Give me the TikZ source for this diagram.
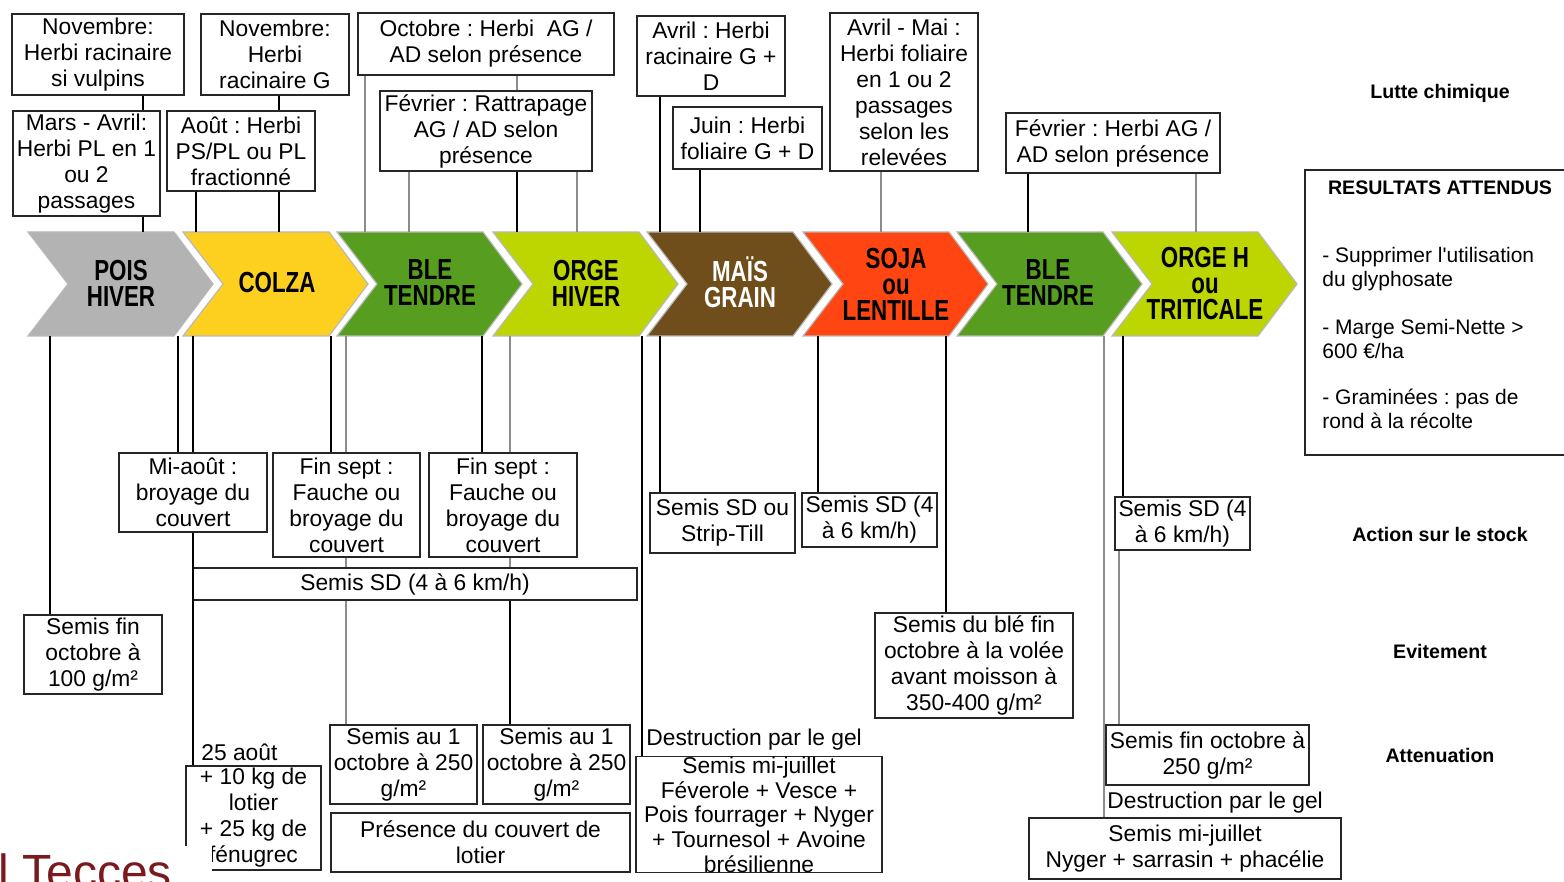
\documentclass[tikz,border=0pt]{standalone}
\usepackage{fontspec}
\setmainfont{Liberation Sans}
\newfontfamily\chevfont[FakeStretch=0.77]{Liberation Sans Bold}
\usetikzlibrary{calc}
\frenchspacing
\definecolor{cgray}{HTML}{B3B3B3}
\definecolor{cyellow}{HTML}{FDD020}
\definecolor{cgreen}{HTML}{579E20}
\definecolor{clime}{HTML}{BDD500}
\definecolor{cbrown}{HTML}{6F4E1B}
\definecolor{corange}{HTML}{FF4512}
\definecolor{logored}{HTML}{7A1A1E}
\begin{document}
\begin{tikzpicture}[x=0.5pt,y=-0.5pt,
  box/.style={draw=black!85, line width=0.7pt, inner sep=0.5pt, align=center, font=\fontsize{11.4}{13}\selectfont},
  plain/.style={inner sep=0pt, font=\fontsize{11.4}{13}\selectfont},
  lbl/.style={font=\fontsize{9.8}{12}\selectfont\bfseries},
  res/.style={inner sep=0pt, align=left, font=\fontsize{10.5}{12}\selectfont},
  conn/.style={line width=0.65pt, black},
  connl/.style={line width=0.65pt, black!45},
  chev/.style={draw=black!28, line width=0.6pt},
  chevtxt/.style={font=\chevfont\fontsize{14.5}{13}\selectfont, align=center, inner sep=0pt}
]
\useasboundingbox (0,0) rectangle (1564,882);
\clip (0,0) rectangle (1564,882);

% ---------- chevrons ----------
\foreach \L/\c in {28/cgray,183/cyellow,337/cgreen,493/clime,647/cbrown,803/corange,957/cgreen,1112/clime}
  \path[chev, fill=\c] (\L,232) -- ++(146,0) -- ++(39,52) -- ++(-39,52) -- ++(-146,0) -- ++(40,-52) -- cycle;
\node[chevtxt] (c1) at (121,283) {POIS\\HIVER};
\node[chevtxt] (c2) at (277,283) {COLZA};
\node[chevtxt] (c3) at (430,283) {BLE\\TENDRE};
\node[chevtxt] (c4) at (586,283) {ORGE\\HIVER};
\node[chevtxt, text=white] (c5) at (740,282) {MAÏS\\GRAIN};
\node[chevtxt] (c6) at (896,284) {SOJA\\ou\\LENTILLE};
\node[chevtxt] (c7) at (1048,283) {BLE\\TENDRE};
\node[chevtxt] (c8) at (1205,284) {ORGE H\\ou\\TRITICALE};

\coordinate (rowtop) at (0,232);
\coordinate (rowbot) at (0,336);

% ---------- top boxes ----------
\node[box, minimum width=86pt, minimum height=40.5pt] (t1) at (98,54.5) {Novembre:\\Herbi racinaire\\si vulpins};
\node[box, minimum width=74pt, minimum height=40.5pt] (t2) at (275,54.5) {Novembre:\\Herbi\\racinaire G};
\node[box, minimum width=128pt, minimum height=31pt] (t3) at (486,44) {Octobre : Herbi\ \ AG /\\AD selon présence};
\node[box, minimum width=74pt, minimum height=40pt] (t4) at (711,56) {Avril : Herbi\\racinaire G +\\D};
\node[box, minimum width=74pt, minimum height=79pt] (t5) at (904,92) {Avril - Mai :\\Herbi foliaire\\en 1 ou 2\\passages\\selon les\\relevées};
\node[box, minimum width=73.5pt, minimum height=52.5pt] (t6) at (86.5,163.5) {Mars - Avril:\\Herbi PL en 1\\ou 2\\passages};
\node[box, minimum width=74pt, minimum height=40pt] (t7) at (241,151) {Août : Herbi\\PS/PL ou PL\\fractionné};
\node[box, minimum width=106pt, minimum height=40pt] (t8) at (486,131) {Février : Rattrapage\\AG / AD selon\\présence};
\node[box, minimum width=74.5pt, minimum height=31pt] (t9) at (747.5,138) {Juin : Herbi\\foliaire G + D};
\node[box, minimum width=107pt, minimum height=30pt] (t10) at (1113,143) {Février : Herbi AG /\\AD selon présence};

% ---------- bottom boxes ----------
\node[box, minimum width=69pt, minimum height=39.5pt] (b1) at (93,654.5) {Semis fin\\octobre à\\100 g/m²};
\node[box, minimum width=74pt, minimum height=39.5pt] (b2) at (193,492.5) {Mi-août :\\broyage du\\couvert};
\node[box, minimum width=73.5pt, minimum height=52pt] (b3) at (346.5,505) {Fin sept :\\Fauche ou\\broyage du\\couvert};
\node[box, minimum width=74pt, minimum height=52pt] (b4) at (503,505) {Fin sept :\\Fauche ou\\broyage du\\couvert};
\node[box, minimum width=222pt, minimum height=16pt] (b5) at (415,584) {Semis SD (4 à 6 km/h)};
\node[box, minimum width=67.5pt, minimum height=52pt] (b6) at (253.5,818) {+ 10 kg de\\lotier\\+ 25 kg de\\fénugrec};
\node[plain, anchor=west] (b6t) at (201,752) {25 août};
\node[box, minimum width=73.5pt, minimum height=39.5pt] (b7) at (403.5,764.5) {Semis au 1\\octobre à 250\\g/m²};
\node[box, minimum width=73.5pt, minimum height=39.5pt] (b8) at (556.5,764.5) {Semis au 1\\octobre à 250\\g/m²};
\node[box, minimum width=149.5pt, minimum height=29.5pt] (b9) at (480.5,842.5) {Présence du couvert de\\lotier};
\node[box, minimum width=72.5pt, minimum height=30pt] (b10) at (722.5,523) {Semis SD ou\\Strip-Till};
\node[box, minimum width=67.5pt, minimum height=27pt] (b11) at (869.5,520) {Semis SD (4\\à 6 km/h)};
\node[box, minimum width=99pt, minimum height=52.5pt] (b12) at (974,665.5) {Semis du blé fin\\octobre à la volée\\avant moisson à\\350-400 g/m²};
\node[plain, anchor=west] (b13) at (646,740) {Destruction par le gel};
\node[box, minimum width=123pt, inner ysep=0pt, anchor=north, font=\fontsize{11.4}{12.4}\selectfont] (b14) at (759,756) {Semis mi-juillet\\Féverole + Vesce +\\Pois fourrager + Nyger\\+ Tournesol + Avoine\\brésilienne};
\node[box, minimum width=67.5pt, minimum height=26.5pt] (b15) at (1182.5,523.5) {Semis SD (4\\à 6 km/h)};
\node[box, minimum width=101.5pt, minimum height=30pt] (b16) at (1207.5,755) {Semis fin octobre à\\250 g/m²};
\node[plain, anchor=west] (b17) at (1107,803) {Destruction par le gel};
\node[box, minimum width=156pt, minimum height=30.5pt] (b18) at (1185,848.5) {Semis mi-juillet\\Nyger + sarrasin + phacélie};

% ---------- right column ----------
\node[lbl] (l1) at (1440,93) {Lutte chimique};
\node[draw=black!85, line width=0.7pt, minimum width=132pt, minimum height=142.5pt, inner sep=0pt] (resbox) at (1437,312.5) {};
\node[lbl] (l2) at (1440,188) {RESULTATS ATTENDUS};
\node[res, anchor=west] (r1) at (1322,269) {- Supprimer l\textquotesingle utilisation\\du glyphosate};
\node[res, anchor=west] (r2) at (1322,338.5) {- Marge Semi-Nette >\\600 €/ha};
\node[res, anchor=west] (r3) at (1322,409) {- Graminées : pas de\\rond à la récolte};
\node[lbl] (l3) at (1440,534) {Action sur le stock};
\node[lbl] (l4) at (1440,651) {Evitement};
\node[lbl] (l5) at (1440,755) {Attenuation};

% ---------- connector x positions ----------
\foreach \n/\x in {a/143,b/279,c/196,d/365,e/517,f/409,h/577,i/660,j/700,k/881,l/1028,m/1196,n/50,o/178,p/193,q/331,r/346,s/482,u/510,v/642,y/818,z/946,aa/1104,ab/1123,ac/1119}
  \coordinate (v\n) at (\x,0);

% top connectors
\draw[conn] (t1.south -| va) -- (t6.north -| va);
\draw[conn] (t6.south -| va) -- (rowtop -| va);
\draw[conn] (t2.south -| vb) -- (t7.north -| vb);
\draw[conn] (t7.south -| vb) -- (rowtop -| vb);
\draw[conn] (t7.south -| vc) -- (rowtop -| vc);
\draw[connl] (t3.south -| vd) -- (rowtop -| vd);
\draw[connl] (t3.south -| ve) -- (t8.north -| ve);
\draw[connl] (t8.south -| vf) -- (rowtop -| vf);
\draw[conn] (t8.south -| ve) -- (rowtop -| ve);
\draw[connl] (t8.south -| vh) -- (rowtop -| vh);
\draw[conn] (t4.south -| vi) -- (rowtop -| vi);
\draw[conn] (t9.south -| vj) -- (rowtop -| vj);
\draw[connl] (t5.south -| vk) -- (rowtop -| vk);
\draw[conn] (t10.south -| vl) -- (rowtop -| vl);
\draw[connl] (t10.south -| vm) -- (rowtop -| vm);

% bottom connectors
\draw[conn] (rowbot -| vn) -- (b1.north -| vn);
\draw[conn] (rowbot -| vo) -- (b2.north -| vo);
\draw[conn] (rowbot -| vp) -- (b2.north -| vp);
\draw[conn] (b2.south -| vp) -- (b6.north -| vp);
\draw[conn] (rowbot -| vq) -- (b3.north -| vq);
\draw[connl] (rowbot -| vr) -- (b3.north -| vr);
\draw[connl] (b3.south -| vr) -- (b5.north -| vr);
\draw[connl] (b5.south -| vr) -- (b7.north -| vr);
\draw[conn] (rowbot -| vs) -- (b4.north -| vs);
\draw[connl] (rowbot -| vu) -- (b4.north -| vu);
\draw[connl] (b4.south -| vu) -- (b5.north -| vu);
\draw[conn] (b5.south -| vu) -- (b8.north -| vu);
\draw[conn] (rowbot -| vv) -- (b14.north -| vv);
\draw[conn] (rowbot -| vi) -- (b10.north -| vi);
\draw[conn] (rowbot -| vy) -- (b11.north -| vy);
\draw[conn] (rowbot -| vz) -- (b12.north -| vz);
\draw[connl] (rowbot -| vaa) -- (b18.north -| vaa);
\draw[conn] (rowbot -| vab) -- (b15.north -| vab);
\draw[connl] (b15.south -| vac) -- (b16.north -| vac);

% ---------- logo fragment ----------
\fill[white] (0,846) rectangle (212,882);
\node[anchor=base west, text=logored, font=\fontsize{24}{24}\selectfont, inner sep=0pt] (logo) at (-2,888) {l Tecces};
\end{tikzpicture}
\end{document}
